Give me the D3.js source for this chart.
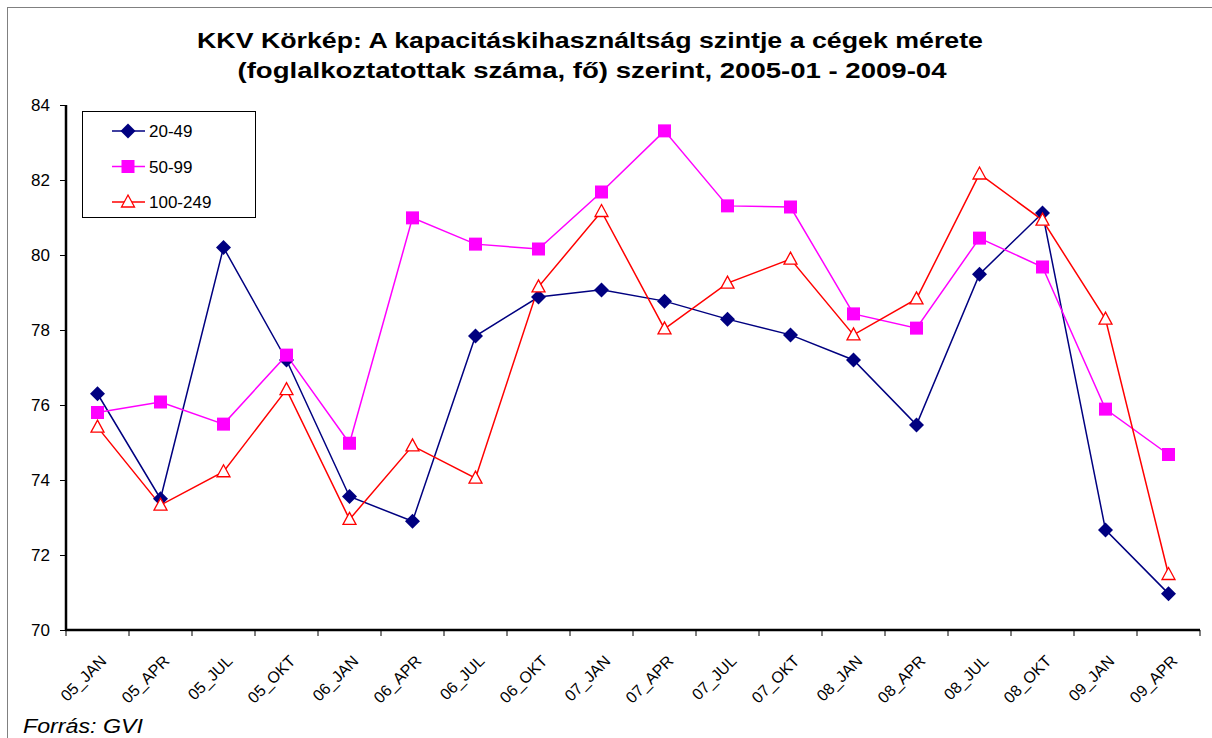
<!DOCTYPE html>
<html>
<head>
<meta charset="utf-8">
<script src="https://cdn.jsdelivr.net/npm/d3@7"></script>
<style>
  body { margin: 0; background: #fff; }
  svg { display: block; font-family: Arial, "Liberation Sans", sans-serif; }
</style>
</head>
<body>
<svg width="1212" height="738"></svg>
<script>
// categories (quarters) and the three series
var categories = ["05_JAN", "05_APR", "05_JUL", "05_OKT", "06_JAN", "06_APR", "06_JUL", "06_OKT",
  "07_JAN", "07_APR", "07_JUL", "07_OKT", "08_JAN", "08_APR", "08_JUL", "08_OKT", "09_JAN", "09_APR"];
var small = [76.3, 73.5, 80.2, 77.2, 73.56, 72.9, 77.84, 78.88, 79.07, 78.77, 78.29, 77.87, 77.2, 75.47, 79.49, 81.12, 72.67, 70.97];
var medium = [75.8, 76.08, 75.49, 77.33, 74.98, 80.99, 80.29, 80.16, 81.68, 83.31, 81.31, 81.28, 78.43, 78.05, 80.45, 79.68, 75.89, 74.68];
var large = [75.41, 73.33, 74.22, 76.41, 72.95, 74.91, 74.05, 79.15, 81.16, 78.03, 79.25, 79.89, 77.87, 78.83, 82.16, 80.93, 78.29, 71.48];
var seriesNames = ["20-49", "50-99", "100-249"];
var yTicks = [70, 72, 74, 76, 78, 80, 82, 84];

var svg = d3.select("svg"),
    width = +svg.attr("width"),
    height = +svg.attr("height");

var mLeft = 66, mRight = 1200, mTop = 105, mBottom = 630;

// chart border
svg.append("rect")
    .attr("x", 7.5).attr("y", 7.5)
    .attr("width", width).attr("height", height)
    .attr("fill", "none")
    .attr("stroke", "#808080")
    .attr("stroke-width", 1);

var x = d3.scaleBand()
    .domain(categories)
    .range([mLeft, mRight]);

var y = d3.scaleLinear()
    .domain([70, 84])
    .range([mBottom, mTop]);

// title
var title = svg.append("text")
    .attr("text-anchor", "middle")
    .attr("font-weight", "bold")
    .attr("font-size", 22)
    .attr("fill", "#000");
title.append("tspan").attr("x", 590).attr("y", 48)
    .attr("textLength", 786).attr("lengthAdjust", "spacingAndGlyphs")
    .text("KKV Körkép: A kapacitáskihasználtság szintje a cégek mérete");
title.append("tspan").attr("x", 592).attr("y", 78)
    .attr("textLength", 709).attr("lengthAdjust", "spacingAndGlyphs")
    .text("(foglalkoztatottak száma, fő) szerint, 2005-01 - 2009-04");

// y axis
var yAxis = svg.append("g")
    .attr("transform", "translate(" + mLeft + ",0)")
    .call(d3.axisLeft(y).tickValues(yTicks).tickSize(6).tickPadding(10).tickFormat(d3.format("d")));
yAxis.select(".domain").attr("stroke-width", 2.5).attr("d", "M0," + mTop + "V" + mBottom);
yAxis.selectAll(".tick line").attr("stroke-width", 1);
yAxis.selectAll(".tick text").attr("font-size", 17).attr("fill", "#000")
    .attr("font-family", "Arial, 'Liberation Sans', sans-serif");

// x axis with tick marks between categories
var xAxis = svg.append("g")
    .attr("transform", "translate(0," + mBottom + ")");
xAxis.append("line")
    .attr("x1", mLeft - 1).attr("x2", mRight)
    .attr("stroke", "#000").attr("stroke-width", 2.5);
var edges = categories.map(function(c) { return x(c); }).concat([mRight]);
xAxis.selectAll(".xt")
  .data(edges)
  .enter().append("line")
    .attr("class", "xt")
    .attr("x1", function(d) { return d; })
    .attr("x2", function(d) { return d; })
    .attr("y1", 0).attr("y2", 6)
    .attr("stroke", "#000");
xAxis.selectAll(".xl")
  .data(categories)
  .enter().append("text")
    .attr("class", "xl")
    .attr("text-anchor", "end")
    .attr("font-size", 16)
    .attr("fill", "#000")
    .attr("transform", function(d) {
      return "translate(" + (x(d) + x.bandwidth() / 2 + 10) + ",32) rotate(-45)";
    })
    .text(function(d) { return d; });

// series
var data = [
  { name: seriesNames[0], values: small, color: "#000080", marker: "diamond" },
  { name: seriesNames[1], values: medium, color: "#FF00FF", marker: "square" },
  { name: seriesNames[2], values: large, color: "#FF0000", marker: "triangle" }
];

var line = d3.line()
    .x(function(d, i) { return x(categories[i]) + x.bandwidth() / 2; })
    .y(function(d) { return y(d); });

function drawMarker(g, type, color) {
  if (type === "diamond") {
    g.append("path")
        .attr("d", "M0,-7.5L7.5,0L0,7.5L-7.5,0Z")
        .attr("fill", color);
  } else if (type === "square") {
    g.append("rect")
        .attr("x", -6.5).attr("y", -6.5)
        .attr("width", 13).attr("height", 13)
        .attr("fill", color);
  } else {
    g.append("path")
        .attr("d", "M0,-7L6.5,5L-6.5,5Z")
        .attr("fill", "#fff")
        .attr("stroke", color)
        .attr("stroke-width", 1.3);
  }
}

data.forEach(function(s) {
  svg.append("path")
      .datum(s.values)
      .attr("fill", "none")
      .attr("stroke", s.color)
      .attr("stroke-width", 1.5)
      .attr("d", line);
});

data.forEach(function(s) {
  s.values.forEach(function(v, i) {
    var g = svg.append("g")
        .attr("transform", "translate(" + (x(categories[i]) + x.bandwidth() / 2) + "," + y(v) + ")");
    drawMarker(g, s.marker, s.color);
  });
});

// legend
var legend = svg.append("g");
legend.append("rect")
    .attr("x", 82.5).attr("y", 111.5)
    .attr("width", 173).attr("height", 106)
    .attr("fill", "#fff")
    .attr("stroke", "#000")
    .attr("stroke-width", 1);
data.forEach(function(s, i) {
  var ly = 131 + i * 35.5;
  legend.append("line")
      .attr("x1", 112).attr("x2", 145)
      .attr("y1", ly).attr("y2", ly)
      .attr("stroke", s.color).attr("stroke-width", 1.5);
  var g = legend.append("g").attr("transform", "translate(128," + ly + ")");
  drawMarker(g, s.marker, s.color);
  legend.append("text")
      .attr("x", 149).attr("y", ly + 6)
      .attr("font-size", 17)
      .attr("fill", "#000")
      .text(s.name);
});

// source
svg.append("text")
    .attr("x", 23).attr("y", 733)
    .attr("font-size", 20)
    .attr("font-style", "italic")
    .attr("fill", "#000")
    .attr("textLength", 120).attr("lengthAdjust", "spacingAndGlyphs")
    .text("Forrás: GVI");
</script>
</body>
</html>
